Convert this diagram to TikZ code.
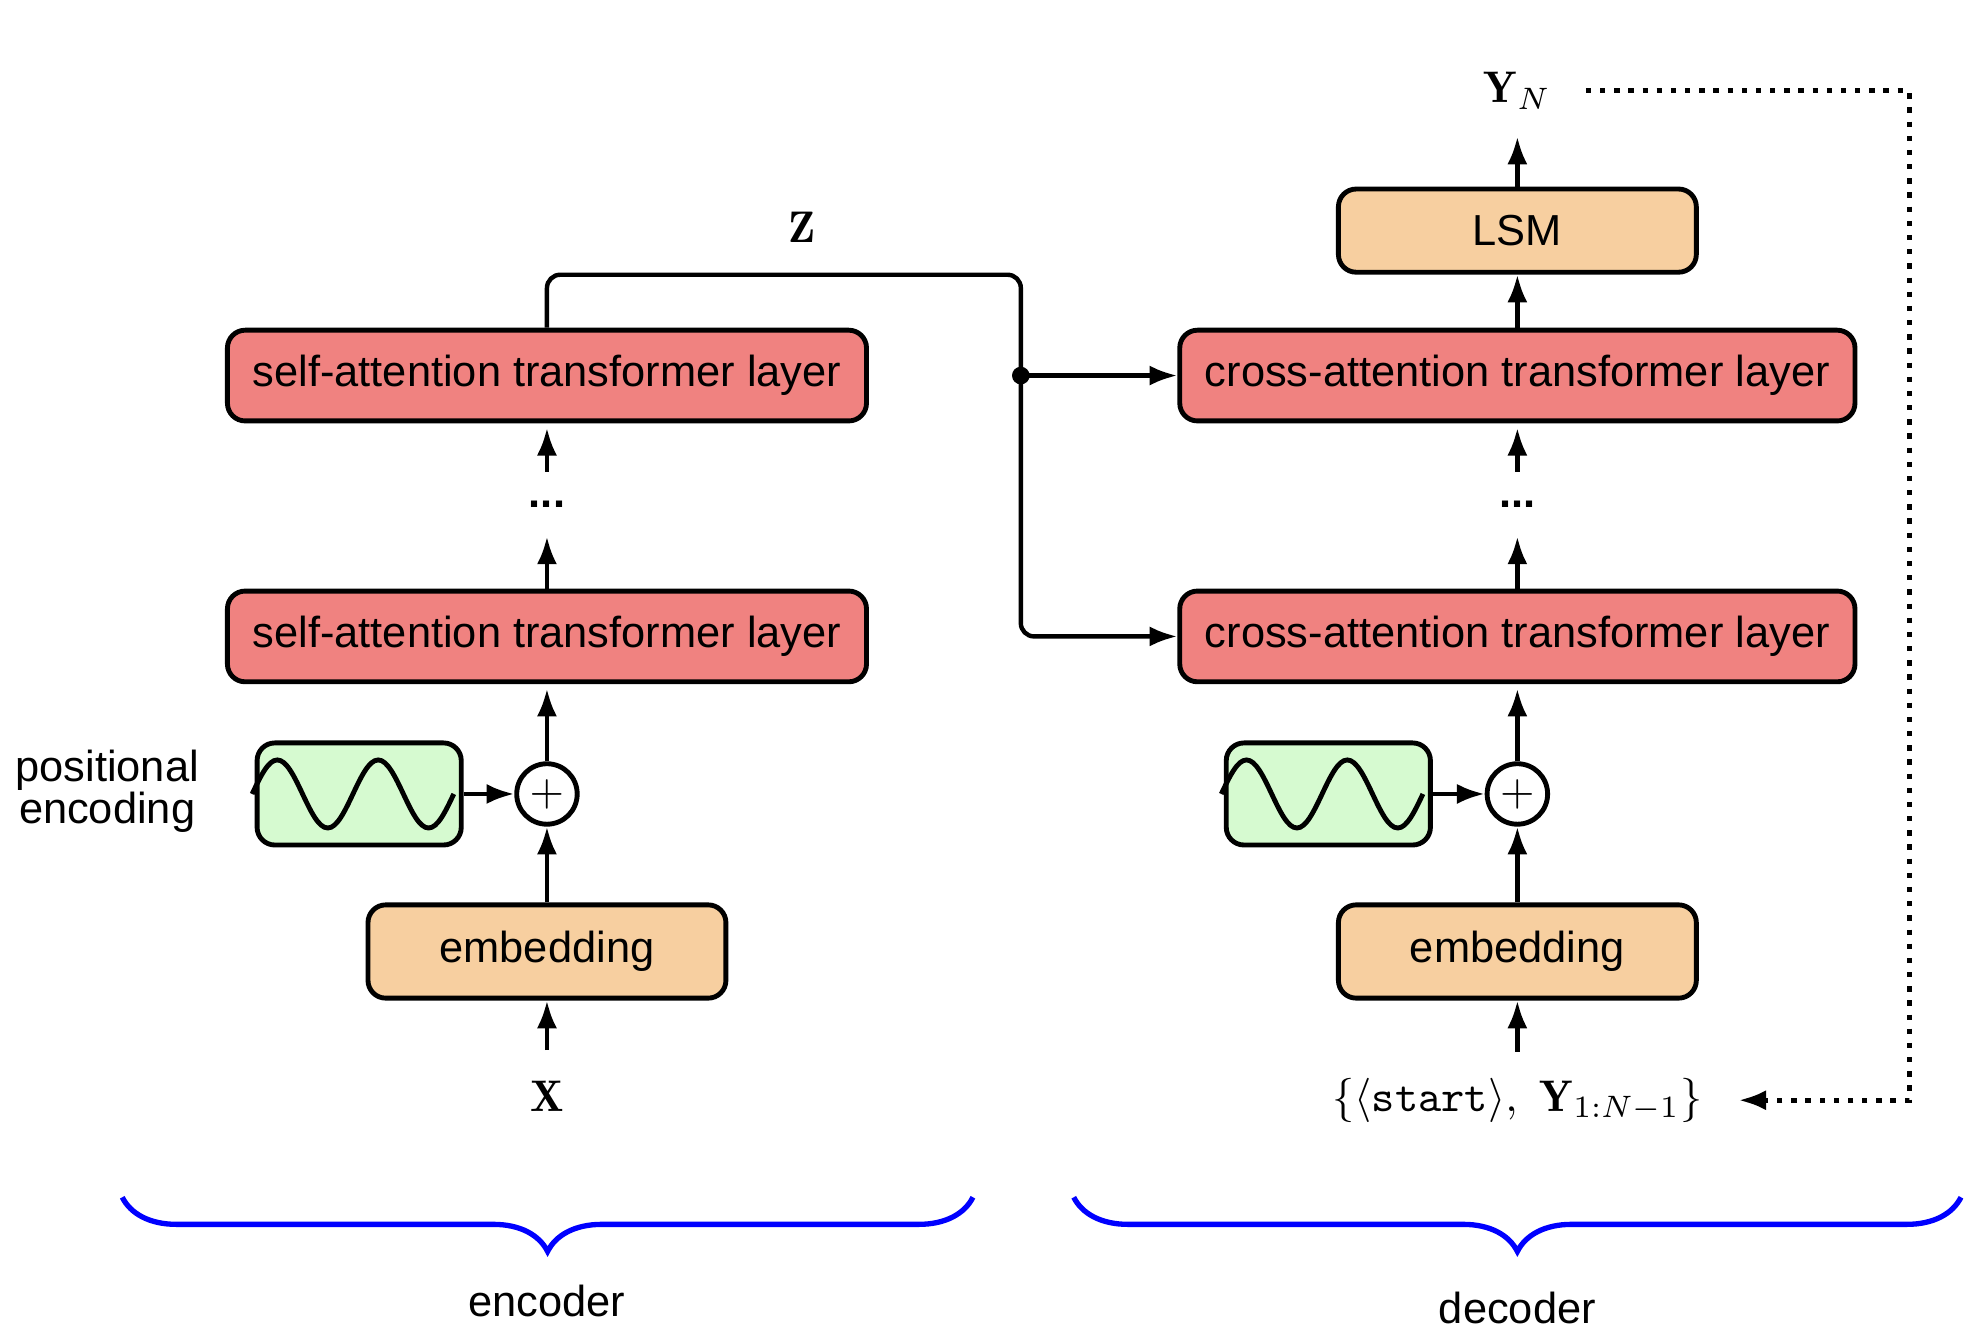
\documentclass[tikz,border=0pt]{standalone}
\usepackage{amsmath}
\usepackage{amssymb}
\usepackage{fontspec}
\setsansfont{Liberation Sans}
\usepackage{tikz}
\usetikzlibrary{arrows.meta}
\usetikzlibrary{decorations.pathreplacing}

\definecolor{attnred}{RGB}{240,130,128}
\definecolor{embedorange}{RGB}{247,207,160}
\definecolor{posgreen}{RGB}{214,250,208}

\tikzset{
	boxtext/.style = {font=\sffamily\fontsize{9.8pt}{11pt}\selectfont},
	sidetext/.style = {font=\sffamily\fontsize{9.8pt}{9.4pt}\selectfont, align=center},
	attnbox/.style = {boxtext, draw, line width=1.1pt, rounded corners=4pt, fill=attnred, inner xsep=0.2cm, minimum height=0.72cm},
	embed/.style = {attnbox, fill=embedorange, minimum width=2.84cm, minimum height=0.74cm},
	posenc/.style = {draw, line width=1.1pt, rounded corners=4pt, fill=posgreen, minimum width=1.62cm, minimum height=0.81cm},
	adder/.style = {draw, circle, line width=1.1pt, fill=white, minimum size=0.48cm, inner sep=0pt},
	arr/.style = {-{Latex[length=2.2mm,width=1.6mm]}, line width=1pt},
	wave/.style = {line width=1.1pt},
	feedback/.style = {line width=1.2pt, dotted, -{Latex[length=2.2mm,width=1.6mm]}},
	groupbrace/.style = {blue, line width=1.2pt, decorate, decoration={brace, mirror, amplitude=0.43cm}},
	lbl/.style = {inner sep=0pt},
}

\begin{document}
\begin{tikzpicture}
	\useasboundingbox (0,0) rectangle (15.6,-10.6);
	
	\node [attnbox] (saE1) at (4.34,-5.05) {self-attention transformer layer};
	\node [attnbox] (saE2) at (4.34,-2.98) {self-attention transformer layer};
	\node [embed] (embE) at (4.34,-7.55) {embedding};
	\node [posenc] (peE) at (2.85,-6.30) {};
	\node [adder] (addE) at (4.34,-6.30) {$+$};
	\node [boxtext, minimum height=0.5cm] (dotsE) at (4.34,-4.00) {\textbf{...}};
	\node [sidetext] (peLabel) at (0.85,-6.28) {positional\\encoding};
	
	\node [attnbox] (caD1) at (12.04,-5.05) {cross-attention transformer layer};
	\node [attnbox] (caD2) at (12.04,-2.98) {cross-attention transformer layer};
	\node [embed, minimum height=0.66cm] (lsm) at (12.04,-1.83) {LSM};
	\node [embed] (embD) at (12.04,-7.55) {embedding};
	\node [posenc] (peD) at (10.54,-6.30) {};
	\node [adder] (addD) at (12.04,-6.30) {$+$};
	\node [boxtext, minimum height=0.5cm] (dotsD) at (12.04,-4.00) {\textbf{...}};
	
	\node [lbl] (xin) at (4.34,-8.70) {$\mathbf{X}$};
	\node [lbl] (yin) at (12.04,-8.73) {$\{\langle\texttt{start}\rangle,\ \mathbf{Y}_{1:N-1}\}$};
	\node [lbl] (yout) at (12.04,-0.72) {$\mathbf{Y}_N$};
	\node [lbl] (zout) at (6.36,-1.80) {$\mathbf{Z}$};
	
	\foreach \p in {peE,peD}
		\draw [wave] ([xshift=-0.02cm]\p.west) sin ++(0.2,0.27) cos ++(0.2,-0.27) sin ++(0.2,-0.27) cos ++(0.2,0.27)
			sin ++(0.2,0.27) cos ++(0.2,-0.27) sin ++(0.2,-0.27) cos ++(0.2,0.27);
	
	\draw [arr, shorten <=0.24cm] (xin) -- (embE);
	\draw [arr] (embE) -- (addE);
	\draw [arr] (peE) -- (addE);
	\draw [arr, shorten >=1pt] (addE) -- (saE1);
	\draw [arr] (saE1) -- (dotsE);
	\draw [arr, shorten >=1pt] (dotsE) -- (saE2);
	
	\draw [arr, shorten <=0.2cm] (yin) -- (embD);
	\draw [arr] (embD) -- (addD);
	\draw [arr] (peD) -- (addD);
	\draw [arr, shorten >=1pt] (addD) -- (caD1);
	\draw [arr] (caD1) -- (dotsD);
	\draw [arr, shorten >=1pt] (dotsD) -- (caD2);
	\draw [arr] (caD2) -- (lsm);
	\draw [arr, shorten >=0.21cm] (lsm) -- (yout);
	
	\coordinate (zbend) at (8.10,-2.18);
	\coordinate (zsplit) at (8.10,-2.98);
	\draw [arr, rounded corners=3pt] (saE2) |- (zbend) |- (caD1);
	\fill (zsplit) circle (0.07);
	\draw [arr] (zsplit) -- (caD2);
	
	\coordinate (fbtop) at (15.15,-0.72);
	\draw [feedback, shorten <=0.27cm, shorten >=0.28cm] (yout) -- (fbtop) |- (yin);
	
	\draw [groupbrace] (0.97,-9.50) -- (7.72,-9.50);
	\node [boxtext] (encLabel) at (4.34,-10.32) {encoder};
	\draw [groupbrace] (8.52,-9.50) -- (15.56,-9.50);
	\node [boxtext] (decLabel) at (12.04,-10.38) {decoder};
	
\end{tikzpicture}
\end{document}
